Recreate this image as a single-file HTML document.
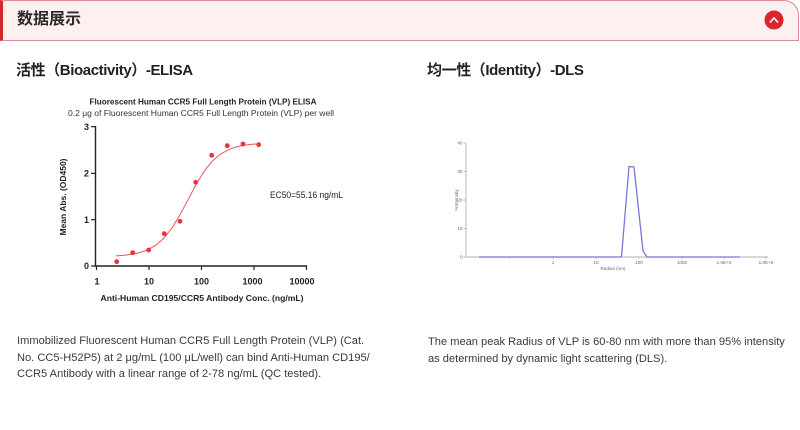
<!DOCTYPE html>
<html><head><meta charset="utf-8">
<style>
html,body{margin:0;padding:0;background:#fff;}
body{width:800px;height:430px;overflow:hidden;position:relative;font-family:"Liberation Sans","Noto Sans CJK SC",sans-serif;}
.hdr{position:absolute;left:0;top:0;width:799px;height:41px;box-sizing:border-box;background:#fdf0f1;border:1px solid #e48c93;border-left:3px solid #d8262f;border-top-right-radius:15px;}
.hdr .t{position:absolute;left:14px;top:8px;font-size:16px;font-weight:bold;color:#2a2a2a;line-height:22px;}
.h2{position:absolute;top:61px;font-size:15px;font-weight:bold;color:#222;line-height:20px;letter-spacing:-0.4px;white-space:nowrap;}
.p{position:absolute;font-size:11.1px;color:#3a3a3a;line-height:16.5px;white-space:nowrap;}
svg{position:absolute;left:0;top:0;}
</style></head><body>
<div class="hdr"><div class="t">数据展示</div></div>
<div class="h2" style="left:16px;">活性（Bioactivity）-ELISA</div>
<div class="h2" style="left:427px;">均一性（Identity）-DLS</div>
<div class="p" style="left:17px;top:333px;">Immobilized Fluorescent Human CCR5 Full Length Protein (VLP) (Cat.<br>No. CC5-H52P5) at 2 μg/mL (100 μL/well) can bind Anti-Human CD195/<br>CCR5 Antibody with a linear range of 2-78 ng/mL (QC tested).</div>
<div class="p" style="left:428px;top:334px;">The mean peak Radius of VLP is 60-80 nm with more than 95% intensity<br>as determined by dynamic light scattering (DLS).</div>

<svg width="800" height="430" viewBox="0 0 800 430">
  <circle cx="774" cy="20" r="9.5" fill="#d8262f"/>
  <polyline points="770,22.5 774,18 778,22.5" fill="none" stroke="#fff" stroke-width="1.6"/>

  <g font-family="Liberation Sans, sans-serif">
    <text x="203" y="104.5" font-size="8" font-weight="bold" fill="#222" text-anchor="middle" textLength="227" lengthAdjust="spacingAndGlyphs">Fluorescent Human CCR5 Full Length Protein (VLP) ELISA</text>
    <text x="201" y="116" font-size="8" fill="#333" text-anchor="middle" textLength="266" lengthAdjust="spacingAndGlyphs">0.2 μg of Fluorescent Human CCR5 Full Length Protein (VLP) per well</text>
    <line x1="95.5" y1="126" x2="95.5" y2="266.6" stroke="#222" stroke-width="1.4"/>
    <line x1="95" y1="266" x2="307" y2="266" stroke="#222" stroke-width="1.4"/>
    <g stroke="#222" stroke-width="1.2">
      <line x1="91" y1="126.7" x2="95.5" y2="126.7"/>
      <line x1="91" y1="173.4" x2="95.5" y2="173.4"/>
      <line x1="91" y1="219.7" x2="95.5" y2="219.7"/>
      <line x1="91" y1="266" x2="95.5" y2="266"/>
      <line x1="96.5" y1="266" x2="96.5" y2="270"/>
      <line x1="149" y1="266" x2="149" y2="270"/>
      <line x1="201.5" y1="266" x2="201.5" y2="270"/>
      <line x1="254" y1="266" x2="254" y2="270"/>
      <line x1="306.5" y1="266" x2="306.5" y2="270"/>
    </g>
    <g font-size="9" font-weight="bold" fill="#222" text-anchor="end">
      <text x="89" y="129.8">3</text>
      <text x="89" y="176.5">2</text>
      <text x="89" y="222.8">1</text>
      <text x="89" y="269.1">0</text>
    </g>
    <g font-size="9" font-weight="bold" fill="#222" text-anchor="middle">
      <text x="97" y="284.5">1</text>
      <text x="149" y="284.5">10</text>
      <text x="201.5" y="284.5">100</text>
      <text x="252.5" y="284.5">1000</text>
      <text x="302" y="284.5">10000</text>
    </g>
    <text x="202" y="301" font-size="8.5" font-weight="bold" fill="#222" text-anchor="middle" textLength="203" lengthAdjust="spacingAndGlyphs">Anti-Human CD195/CCR5  Antibody Conc. (ng/mL)</text>
    <text transform="translate(66,197) rotate(-90)" font-size="8.5" font-weight="bold" fill="#222" text-anchor="middle" textLength="77" lengthAdjust="spacingAndGlyphs">Mean Abs. (OD450)</text>
    <text x="270" y="198" font-size="8.8" fill="#222" textLength="73" lengthAdjust="spacingAndGlyphs">EC50=55.16 ng/mL</text>
    <polyline fill="none" stroke="#e8565c" stroke-width="1" points="116,255.9 124,255.3 132,254.3 140,252.5 148,249.7 156,245.1 164,238 172,227.9 180,214.8 188,199.7 196,184.6 204,171.5 212,161.4 220,154.4 228,149.9 236,147 244,145.3 252,144.3 259,143.8"/>
    <g fill="#e8333a">
      <circle cx="116.7" cy="261.7" r="2.4"/>
      <circle cx="132.7" cy="252.7" r="2.4"/>
      <circle cx="148.7" cy="250" r="2.4"/>
      <circle cx="164.3" cy="233.7" r="2.4"/>
      <circle cx="180" cy="221.3" r="2.4"/>
      <circle cx="195.7" cy="182.3" r="2.4"/>
      <circle cx="211.7" cy="155.3" r="2.4"/>
      <circle cx="227.3" cy="145.7" r="2.4"/>
      <circle cx="243" cy="144" r="2.4"/>
      <circle cx="258.7" cy="144.7" r="2.4"/>
    </g>
  </g>

  <g font-family="Liberation Sans, sans-serif" fill="#666">
    <line x1="466" y1="143" x2="466" y2="257" stroke="#999" stroke-width="0.7"/>
    <line x1="466" y1="257" x2="768" y2="257" stroke="#999" stroke-width="0.7"/>
    <g stroke="#999" stroke-width="0.6">
      <line x1="463.5" y1="143" x2="466" y2="143"/>
      <line x1="463.5" y1="171.5" x2="466" y2="171.5"/>
      <line x1="463.5" y1="200" x2="466" y2="200"/>
      <line x1="463.5" y1="228.5" x2="466" y2="228.5"/>
      <line x1="463.5" y1="257" x2="466" y2="257"/>
      <line x1="510" y1="257" x2="510" y2="259"/>
      <line x1="553" y1="257" x2="553" y2="259"/>
      <line x1="596" y1="257" x2="596" y2="259"/>
      <line x1="639" y1="257" x2="639" y2="259"/>
      <line x1="682" y1="257" x2="682" y2="259"/>
      <line x1="724" y1="257" x2="724" y2="259"/>
      <line x1="766" y1="257" x2="766" y2="259"/>
    </g>
    <g font-size="4.6" text-anchor="end">
      <text x="462.5" y="144.6">40</text>
      <text x="462.5" y="173.1">30</text>
      <text x="462.5" y="201.6">20</text>
      <text x="462.5" y="230.1">10</text>
      <text x="462.5" y="258.6">0</text>
    </g>
    <g font-size="4.6" text-anchor="middle">
      <text x="553" y="263.8">1</text>
      <text x="596" y="263.8">10</text>
      <text x="639" y="263.8">100</text>
      <text x="682" y="263.8">1000</text>
      <text x="724" y="263.8">1.0E+4</text>
      <text x="766" y="263.8">1.0E+5</text>
    </g>
    <text x="613" y="269.8" font-size="4.6" text-anchor="middle">Radius (nm)</text>
    <text transform="translate(458,200) rotate(-90)" font-size="4.6" text-anchor="middle">%Intensity</text>
    <polyline fill="none" stroke="#7478d2" stroke-width="1.3" stroke-linejoin="round" points="479,257 621.5,257 629,166.5 634,167 643,251 647,257 740,257"/>
  </g>
</svg>
</body></html>
